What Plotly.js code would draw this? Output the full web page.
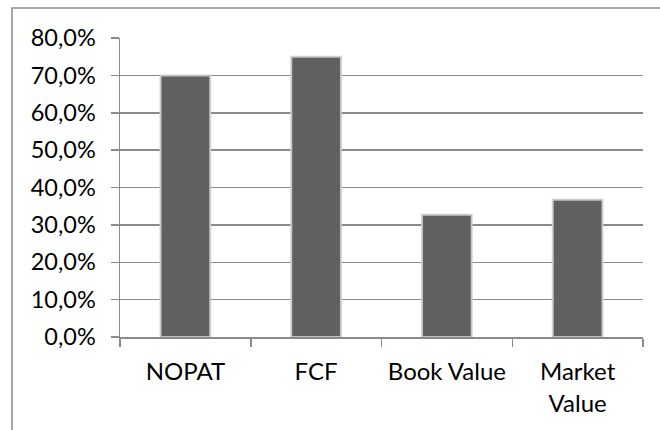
<!DOCTYPE html>
<html>
<head>
<meta charset="utf-8">
<script src="https://cdn.plot.ly/plotly-3.0.1.min.js"></script>
<style>
html,body{margin:0;padding:0;background:#fff;}
#chart{width:660px;height:430px;}
</style>
</head>
<body>
<div id="chart"></div>
<script>
const categories = ['NOPAT', 'FCF', 'Book Value', 'Market<br>Value'];
const shares = [0.70, 0.75, 0.327, 0.367];
const yTicks = [0, 0.1, 0.2, 0.3, 0.4, 0.5, 0.6, 0.7, 0.8];

const W = 660, H = 430;
const m = {l: 120, r: 17, t: 38, b: 93};
const pw = W - m.l - m.r, ph = H - m.t - m.b;

const trace = {
  type: 'bar',
  x: categories,
  y: shares,
  marker: {color: '#606060', line: {color: 'rgba(205,205,205,0.9)', width: 2}},
  hoverinfo: 'none'
};

const layout = {
  width: W, height: H,
  margin: m,
  paper_bgcolor: '#fff',
  plot_bgcolor: '#fff',
  separators: ',.',
  bargap: 0.62,
  showlegend: false,
  font: {family: 'Lato, sans-serif', size: 23, color: '#000'},
  xaxis: {
    type: 'category',
    tickson: 'boundaries',
    ticks: 'outside',
    ticklen: 8,
    tickcolor: '#8a8a8a',
    tickwidth: 1.5,
    showline: true,
    linecolor: '#8a8a8a',
    linewidth: 1.5,
    showgrid: false,
    tickfont: {family: 'Lato, sans-serif', size: 24, color: '#000'},
    ticklabelstandoff: 13
  },
  yaxis: {
    range: [0, 0.8],
    tickvals: yTicks,
    tickformat: '.1%',
    ticks: 'outside',
    ticklen: 8,
    tickcolor: '#8a8a8a',
    tickwidth: 1.5,
    showline: true,
    linecolor: '#8a8a8a',
    linewidth: 1.5,
    showgrid: true,
    gridcolor: '#8a8a8a',
    gridwidth: 1.5,
    zeroline: false,
    tickfont: {family: 'Lato, sans-serif', size: 23.5, color: '#000'},
    ticklabelstandoff: 10
  },
  shapes: [{
    type: 'rect', xref: 'paper', yref: 'paper',
    x0: (12 - m.l) / pw, x1: 1.2,
    y0: -0.5, y1: 1 + (m.t - 8) / ph,
    line: {color: '#8a8a8a', width: 1.5},
    fillcolor: 'rgba(0,0,0,0)',
    layer: 'above'
  }]
};

Plotly.newPlot('chart', [trace], layout, {displayModeBar: false, staticPlot: true});
</script>
</body>
</html>
